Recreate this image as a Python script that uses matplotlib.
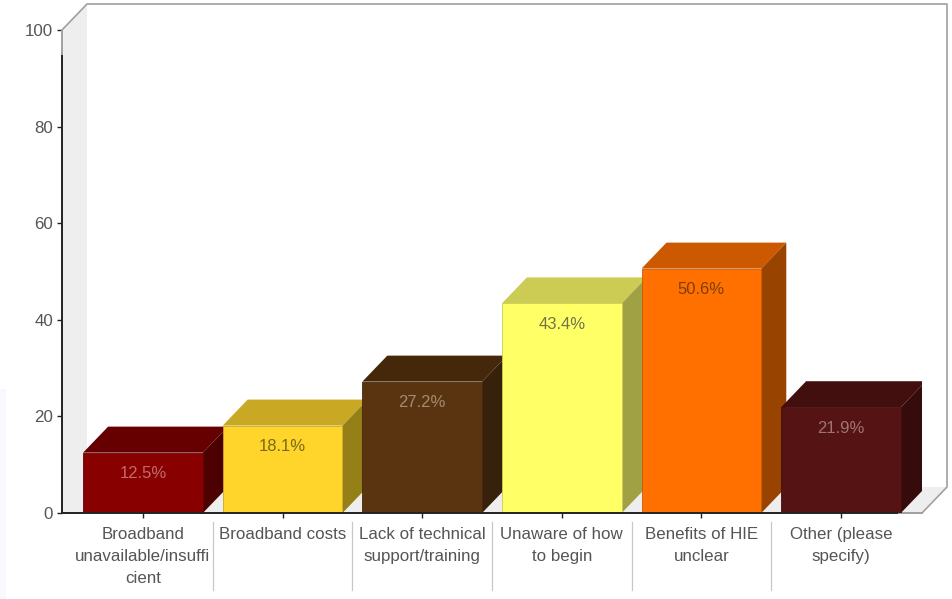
import matplotlib
matplotlib.use("Agg")
import matplotlib.pyplot as plt
from matplotlib.patches import Polygon, Rectangle

categories = ['Broadband\nunavailable/insuffi\ncient', 'Broadband costs',
              'Lack of technical\nsupport/training', 'Unaware of how\nto begin',
              'Benefits of HIE\nunclear', 'Other (please\nspecify)']
values = [12.5, 18.1, 27.2, 43.4, 50.6, 21.9]
value_labels = ['12.5%', '18.1%', '27.2%', '43.4%', '50.6%', '21.9%']
yticks = [0, 20, 40, 60, 80, 100]

front_colors = ['#880000', '#ffd52b', '#5a3410', '#ffff66', '#ff7000', '#551313']
top_colors = ['#660000', '#c9a924', '#452809', '#cccc55', '#cc5800', '#420e0e']
side_colors = ['#4d0000', '#958018', '#38210a', '#a0a045', '#994300', '#360b0b']
label_colors = ['#c46a6a', '#7a6a18', '#a08c72', '#73734a', '#7f3f08', '#a07474']

W, H = 952, 599
BAR_W = 0.858
DX = 25 / 139.6     # 3d depth, in category units
DY = 26 / 4.83      # 3d depth, in value units
PAD = 11.2 / 139.6
GREY = '#a0a0a0'
TEXT = '#555555'

plt.rcParams['font.family'] = ['Liberation Sans', 'DejaVu Sans']

fig = plt.figure(figsize=(W / 100, H / 100), dpi=100)
ax = fig.add_axes([62 / W, 1 - 513 / H, 860 / W, 483 / H])
ax.set_xlim(-0.5 - PAD, 5.5 + PAD)
ax.set_ylim(0, 100)
ax.patch.set_visible(False)

# faint tint down the left edge of the picture
fig.patches.append(Rectangle((0, 0), 6 / W, 0.35, transform=fig.transFigure,
                             facecolor='#f7f9fd', edgecolor='none'))

x0, x1 = ax.get_xlim()

# walls and floor of the 3d box
ax.add_patch(Polygon([(x0, 0), (x0, 100), (x0 + DX, 100 + DY), (x0 + DX, DY)],
                     facecolor='#eeeeee', edgecolor='none', clip_on=False, zorder=1))
ax.add_patch(Polygon([(x0, 0), (x0 + DX, DY), (x1 + DX, DY), (x1, 0)],
                     facecolor='#eeeeee', edgecolor='none', clip_on=False, zorder=1))
ax.plot([x0, x0 + DX, x1 + DX, x1 + DX, x1], [100, 100 + DY, 100 + DY, DY, 0],
        color=GREY, lw=1.2, clip_on=False, zorder=2)
ax.plot([x0, x0], [94.6, 100], color=GREY, lw=1.4, clip_on=False, zorder=2)
ax.plot([5.4, x1], [0, 0], color=GREY, lw=1.4, clip_on=False, zorder=2)
ax.plot([x0, x0], [0, 94.6], color='#222222', lw=1.4, clip_on=False, zorder=3)

# bars, left to right so each front covers the previous side
for i, v in enumerate(values):
    l = i - BAR_W / 2
    r = i + BAR_W / 2
    z = 4 + i
    ax.add_patch(Polygon([(l, v), (l + DX, v + DY), (r + DX, v + DY), (r, v)],
                         facecolor=top_colors[i], edgecolor='none', zorder=z))
    ax.add_patch(Polygon([(r, 0), (r + DX, DY), (r + DX, v + DY), (r, v)],
                         facecolor=side_colors[i], edgecolor='none', zorder=z))
    ax.bar(i, v, width=BAR_W, color=front_colors[i], edgecolor=top_colors[i],
           linewidth=0.6, zorder=z)
    ax.annotate(value_labels[i], (i, v), xytext=(0, -21), textcoords='offset pixels',
                ha='center', va='center', fontsize=12, color=label_colors[i], zorder=20)

ax.plot([x0, 5.4], [0, 0], color='#222222', lw=1.4, clip_on=False, zorder=15)

# dividers between the category labels
for i in range(1, 6):
    ax.plot([i - 0.5, i - 0.5], [-9 / 4.83 - 0.1, -77 / 4.83], color='#c8c8c8', lw=0.9,
            clip_on=False, zorder=2)

for s in ax.spines.values():
    s.set_visible(False)
ax.set_xticks(range(len(categories)))
ax.set_xticklabels(categories, linespacing=1.57)
ax.set_yticks(yticks)
ax.tick_params(axis='x', length=3.5, width=1, color='#222222', labelsize=12.2,
               labelcolor=TEXT, pad=6.5)
ax.tick_params(axis='y', length=3.5, width=1, color='#222222', labelsize=12.2,
               labelcolor=TEXT, pad=3)

fig.savefig('out.png', dpi=100)
